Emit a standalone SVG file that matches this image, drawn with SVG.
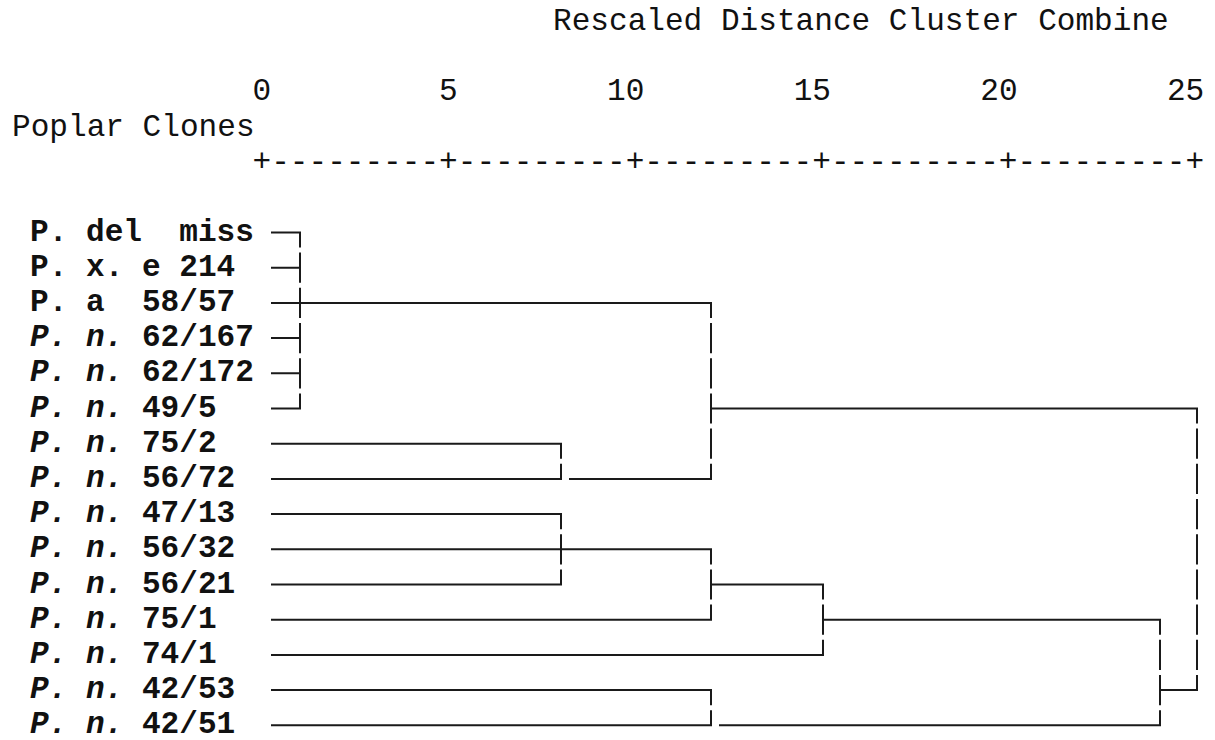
<svg xmlns="http://www.w3.org/2000/svg" width="1215" height="740" viewBox="0 0 1215 740">
<style>
.t{font-family:"Liberation Mono","Courier New",monospace;font-size:31.1px;fill:#111}
.lb{font-family:"Liberation Mono","Courier New",monospace;font-size:31.1px;font-weight:bold;fill:#111}
.i{font-style:italic}
.h{stroke:#1a1a1a;stroke-width:2;fill:none;stroke-linecap:square}
.v{stroke:#1a1a1a;stroke-width:2;fill:none;stroke-dasharray:30.2 5;stroke-dashoffset:15.1}
</style>
<rect width="1215" height="740" fill="#fff"/>
<g id="header">
<text class="t" x="553" y="30">Rescaled Distance Cluster Combine</text>
<text class="t" x="252.5" y="100">0</text>
<text class="t" x="439.1" y="100">5</text>
<text class="t" x="607.1" y="100">10</text>
<text class="t" x="793.7" y="100">15</text>
<text class="t" x="980.3" y="100">20</text>
<text class="t" x="1166.9" y="100">25</text>
<text class="t" x="12" y="136">Poplar Clones</text>
<text class="t" x="252.5" y="171">+---------+---------+---------+---------+---------+</text>
</g>
<g id="labels">
<g id="n1"><text class="lb" x="30" y="240.5" xml:space="preserve">P. del  miss</text></g>
<g id="n2"><text class="lb" x="30" y="275.7" xml:space="preserve">P. x. e 214</text></g>
<g id="n3"><text class="lb" x="30" y="310.9" xml:space="preserve">P. a  58/57</text></g>
<g id="n4"><text class="lb" x="30" y="346.1" xml:space="preserve"><tspan class="i">P. n.</tspan> 62/167</text></g>
<g id="n5"><text class="lb" x="30" y="381.3" xml:space="preserve"><tspan class="i">P. n.</tspan> 62/172</text></g>
<g id="n6"><text class="lb" x="30" y="416.5" xml:space="preserve"><tspan class="i">P. n.</tspan> 49/5</text></g>
<g id="n7"><text class="lb" x="30" y="451.7" xml:space="preserve"><tspan class="i">P. n.</tspan> 75/2</text></g>
<g id="n8"><text class="lb" x="30" y="486.9" xml:space="preserve"><tspan class="i">P. n.</tspan> 56/72</text></g>
<g id="n9"><text class="lb" x="30" y="522.1" xml:space="preserve"><tspan class="i">P. n.</tspan> 47/13</text></g>
<g id="n10"><text class="lb" x="30" y="557.3" xml:space="preserve"><tspan class="i">P. n.</tspan> 56/32</text></g>
<g id="n11"><text class="lb" x="30" y="592.5" xml:space="preserve"><tspan class="i">P. n.</tspan> 56/21</text></g>
<g id="n12"><text class="lb" x="30" y="627.7" xml:space="preserve"><tspan class="i">P. n.</tspan> 75/1</text></g>
<g id="n13"><text class="lb" x="30" y="662.9" xml:space="preserve"><tspan class="i">P. n.</tspan> 74/1</text></g>
<g id="n14"><text class="lb" x="30" y="698.1" xml:space="preserve"><tspan class="i">P. n.</tspan> 42/53</text></g>
<g id="n15"><text class="lb" x="30" y="733.3" xml:space="preserve"><tspan class="i">P. n.</tspan> 42/51</text></g>
</g>
<g id="connectors">
<path class="h" d="M272 232.5H300M272 267.7H300M272 302.9H711M272 338.1H300M272 373.3H300M272 408.5H300M711 408.5H1197
M272 443.7H561M272 478.9H561M570 478.9H711
M272 514.1H561M272 549.3H711M272 584.5H561M711 584.5H823
M272 619.7H711M823 619.7H1160M272 654.9H823
M272 690.1H711M1160 690.1H1197M272 725.3H711M720 725.3H1160"/>
<line class="v" x1="300" y1="232.5" x2="300" y2="408.5"/>
<line class="v" x1="561" y1="443.7" x2="561" y2="478.9"/>
<line class="v" x1="711" y1="302.9" x2="711" y2="478.9"/>
<line class="v" x1="561" y1="514.1" x2="561" y2="584.5"/>
<line class="v" x1="711" y1="549.3" x2="711" y2="619.7"/>
<line class="v" x1="823" y1="584.5" x2="823" y2="654.9"/>
<line class="v" x1="711" y1="690.1" x2="711" y2="725.3"/>
<line class="v" x1="1160" y1="619.7" x2="1160" y2="725.3"/>
<line class="v" x1="1197" y1="408.5" x2="1197" y2="690.1"/>
</g>
</svg>
